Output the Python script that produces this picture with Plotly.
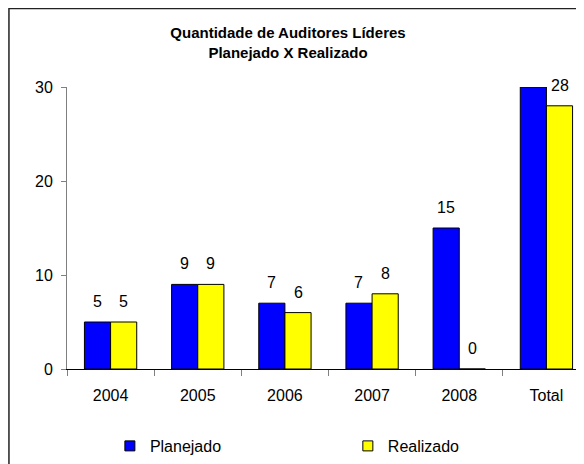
import plotly.graph_objects as go

categories = ["2004", "2005", "2006", "2007", "2008", "Total"]
planejado = [5, 9, 7, 7, 15, 30]
realizado = [5, 9, 6, 8, 0, 28]
# the planned total runs off the top of the axis, so its label is not shown
show_planejado_label = [True, True, True, True, True, False]

FONT = "Liberation Sans, Arial, sans-serif"
BLUE = "#0000FF"
YELLOW = "#FFFF00"
BAR_SHIFT = 13.1  # half a bar width in px, to sit the labels over each bar

fig = go.Figure()
fig.add_trace(go.Bar(x=categories, y=planejado, name="Planejado",
                     marker=dict(color=BLUE, line=dict(color="black", width=1)),
                     showlegend=False))
fig.add_trace(go.Bar(x=categories, y=realizado, name="Realizado",
                     marker=dict(color=YELLOW, line=dict(color="black", width=1)),
                     showlegend=False))

# small square legend keys like the original, one legend box each
for name, col, leg in [("Planejado", BLUE, "legend"), ("Realizado", YELLOW, "legend2")]:
    fig.add_trace(go.Scatter(x=[None], y=[None], mode="markers", name=name,
                             legend=leg,
                             marker=dict(symbol="square", size=10, color=col,
                                         line=dict(color="black", width=1))))

# value labels above the bars ("2004" would be read as a number, so use the index)
for i, (p, r, show) in enumerate(zip(planejado, realizado, show_planejado_label)):
    if show:
        fig.add_annotation(x=i, y=p, text=str(p), showarrow=False,
                           xshift=-BAR_SHIFT, yshift=10, yanchor="bottom")
    fig.add_annotation(x=i, y=r, text=str(r), showarrow=False,
                       xshift=BAR_SHIFT, yshift=10, yanchor="bottom")
fig.update_annotations(font=dict(size=16, color="black", family=FONT))

leg_style = dict(orientation="h", yanchor="middle", y=-0.273, xanchor="left",
                 bgcolor="rgba(0,0,0,0)",
                 font=dict(size=16, family=FONT, color="black"))

fig.update_layout(
    width=584, height=464,
    margin=dict(l=59, r=2, t=79, b=103, autoexpand=False),
    paper_bgcolor="white", plot_bgcolor="white",
    font=dict(family=FONT, size=16, color="black"),
    barmode="group", bargap=0.4, bargroupgap=0,
    title=dict(text="<b>Quantidade de Auditores Líderes<br>Planejado X Realizado</b>",
               x=280 / 584, xanchor="center", y=1 - 30 / 464, yanchor="top",
               font=dict(size=15, family=FONT, color="black")),
    legend=dict(x=0.082, **leg_style),
    legend2=dict(x=0.537, **leg_style),
    shapes=[dict(type="rect", xref="paper", yref="paper",
                 x0=-0.111, x1=1.2, y0=-0.5, y1=1.278,
                 line=dict(color="#222222", width=1.5), fillcolor="rgba(0,0,0,0)",
                 layer="below")],
)

fig.update_xaxes(type="category", range=[-0.5, len(categories) - 0.5],
                 showline=True, linecolor="black", linewidth=1,
                 ticks="outside", tickson="boundaries", ticklen=6, tickcolor="#808080",
                 ticklabelstandoff=12,
                 showgrid=False, zeroline=False, tickfont=dict(size=16))
fig.update_yaxes(range=[0, 30], tickvals=[0, 10, 20, 30], showline=True,
                 linecolor="#808080", linewidth=1, ticks="outside", ticklen=5,
                 tickcolor="#808080", ticklabelstandoff=5,
                 showgrid=False, zeroline=False, tickfont=dict(size=16))

fig.write_html("out.html")
